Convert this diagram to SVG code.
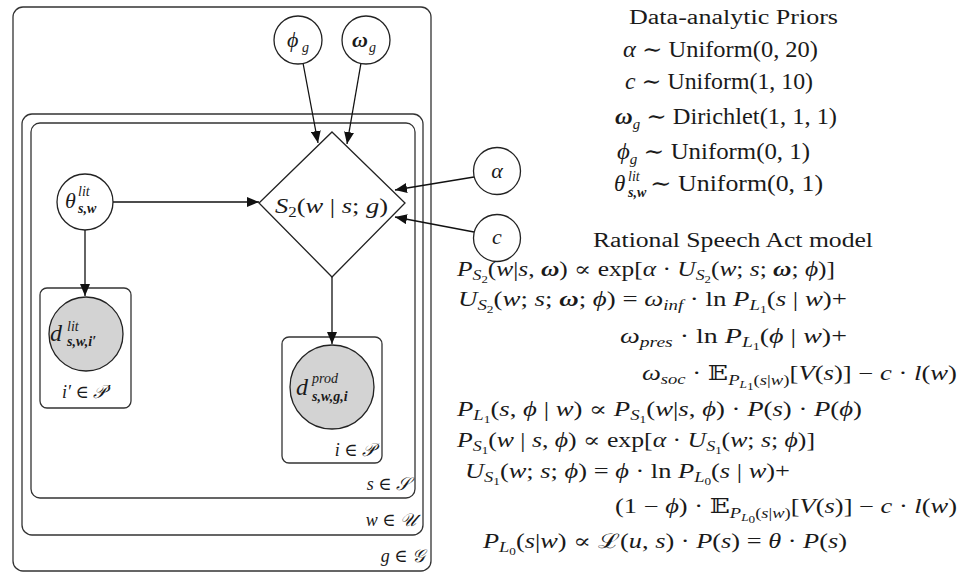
<svg xmlns="http://www.w3.org/2000/svg" width="976" height="575" viewBox="0 0 976 575">
<style>
.t{font-family:"Liberation Serif","DejaVu Serif",serif;fill:#1a1a1a}
.e{font-size:20px}
.p{font-size:23px}
.n{font-size:22px}
.pl{font-size:18px}
.i{font-style:italic}
.b{font-weight:bold}
.s{font-size:14px}
.ss{font-size:10px}
.plate{fill:none;stroke:#333;stroke-width:1.3}
.node{fill:#fff;stroke:#222;stroke-width:1.3}
.obs{fill:#d3d3d3;stroke:#222;stroke-width:1.3}
.edge{fill:none;stroke:#111;stroke-width:1.3;marker-end:url(#ah)}
</style>
<defs>
<marker id="ah" viewBox="0 0 12 10" refX="12" refY="5" markerWidth="12" markerHeight="10" orient="auto" markerUnits="userSpaceOnUse"><path d="M0,0 L12,5 L0,10 z" fill="#111"/></marker>
</defs>
<rect width="976" height="575" fill="#fff"/>

<g id="plates">
<rect class="plate" x="13" y="7" width="418" height="564" rx="10"/>
<rect class="plate" x="22" y="114" width="401" height="421" rx="10"/>
<rect class="plate" x="31" y="123" width="384" height="375" rx="9"/>
<rect class="plate" x="40" y="288" width="91" height="120" rx="7"/>
<rect class="plate" x="282" y="337" width="100" height="126" rx="7"/>
<text class="t pl i" x="62" y="398">i′ ∈ 𝒫′</text>
<text class="t pl i" x="375" y="456" text-anchor="end">i ∈ 𝒫</text>
<text class="t pl i" x="410" y="490" text-anchor="end">s ∈ 𝒮</text>
<text class="t pl i" x="416" y="526" text-anchor="end">w ∈ 𝒰</text>
<text class="t pl i" x="425" y="562" text-anchor="end">g ∈ 𝒢</text>
</g>

<g id="connectors">
<line class="edge" x1="303" y1="63" x2="318" y2="143"/>
<line class="edge" x1="361" y1="63" x2="347" y2="144"/>
<line class="edge" x1="113" y1="202" x2="259" y2="202"/>
<line class="edge" x1="85" y1="230" x2="85" y2="296"/>
<line class="edge" x1="332" y1="277" x2="332" y2="344"/>
<line class="edge" x1="474" y1="177" x2="395" y2="190"/>
<line class="edge" x1="474" y1="232" x2="395" y2="217"/>
</g>

<g id="phi_g">
<circle class="node" cx="298" cy="40" r="24"/>
<text class="t n i" x="287" y="47">ϕ</text><text class="t s i" x="302" y="52">g</text>
</g>
<g id="omega_g">
<circle class="node" cx="366" cy="40" r="24"/>
<text class="t n i b" x="352" y="47">ω</text><text class="t s i" x="369" y="52">g</text>
</g>
<g id="alpha">
<circle class="node" cx="497" cy="171" r="23.5"/>
<text class="t n i" x="497" y="178" text-anchor="middle">α</text>
</g>
<g id="c">
<circle class="node" cx="497" cy="238" r="23.5"/>
<text class="t n i" x="497" y="244" text-anchor="middle">c</text>
</g>
<g id="theta">
<circle class="node" cx="85" cy="202" r="28"/>
<text class="t n i" x="65" y="208">θ</text>
<text class="t s i" x="78" y="196">lit</text>
<text class="t s i b" x="78" y="213">s,w</text>
</g>
<g id="S2">
<polygon class="node" points="332,132 405,203 332,277 259,203"/>
<text class="t n" x="275" y="213" textLength="113" lengthAdjust="spacingAndGlyphs"><tspan class="i">S</tspan><tspan class="s" dy="4">2</tspan><tspan dy="-4">(</tspan><tspan class="i">w</tspan> | <tspan class="i">s</tspan>; <tspan class="i">g</tspan>)</text>
</g>
<g id="d_lit">
<circle class="obs" cx="86" cy="334" r="37"/>
<text class="t i" style="font-size:24px" x="50" y="341">d</text>
<text class="t s i" x="67" y="331">lit</text>
<text class="t s i b" x="67" y="346">s,w,i′</text>
</g>
<g id="d_prod">
<circle class="obs" cx="332" cy="387" r="42"/>
<text class="t i" style="font-size:24px" x="296" y="395">d</text>
<text class="t s i" x="312" y="383">prod</text>
<text class="t s i b" x="312" y="401">s,w,g,i</text>
</g>

<g id="priors">
<text class="t e" x="629" y="24" textLength="209" lengthAdjust="spacingAndGlyphs">Data-analytic Priors</text>
<text class="t p" x="623" y="57" textLength="195" lengthAdjust="spacingAndGlyphs"><tspan class="i">α</tspan> ∼ Uniform(0, 20)</text>
<text class="t p" x="625" y="89" textLength="188" lengthAdjust="spacingAndGlyphs"><tspan class="i">c</tspan> ∼ Uniform(1, 10)</text>
<text class="t p" x="615" y="124" textLength="222" lengthAdjust="spacingAndGlyphs"><tspan class="i b">ω</tspan><tspan class="s i" dy="5">g</tspan><tspan dy="-5"> ∼ Dirichlet(1, 1, 1)</tspan></text>
<text class="t p" x="617" y="159" textLength="193" lengthAdjust="spacingAndGlyphs"><tspan class="i">ϕ</tspan><tspan class="s i" dy="5">g</tspan><tspan dy="-5"> ∼ Uniform(0, 1)</tspan></text>
<text class="t p i" x="614" y="191">θ</text>
<text class="t s i" x="628" y="181">lit</text>
<text class="t s i b" x="628" y="197">s,w</text>
<text class="t p" x="650" y="191" textLength="173" lengthAdjust="spacingAndGlyphs">∼ Uniform(0, 1)</text>
</g>

<g id="rsa">
<text class="t e" x="593" y="247" textLength="280" lengthAdjust="spacingAndGlyphs">Rational Speech Act model</text>
<text class="t e" x="457" y="276" textLength="378" lengthAdjust="spacingAndGlyphs"><tspan class="i">P</tspan><tspan class="s i" dy="4">S</tspan><tspan class="ss" dy="3">2</tspan><tspan dy="-7">(</tspan><tspan class="i">w</tspan>|<tspan class="i">s</tspan>, <tspan class="i b">ω</tspan>) ∝ exp[<tspan class="i">α</tspan> · <tspan class="i">U</tspan><tspan class="s i" dy="4">S</tspan><tspan class="ss" dy="3">2</tspan><tspan dy="-7">(</tspan><tspan class="i">w</tspan>; <tspan class="i">s</tspan>; <tspan class="i b">ω</tspan>; <tspan class="i">ϕ</tspan>)]</text>
<text class="t e" x="458" y="306" textLength="389" lengthAdjust="spacingAndGlyphs"><tspan class="i">U</tspan><tspan class="s i" dy="4">S</tspan><tspan class="ss" dy="3">2</tspan><tspan dy="-7">(</tspan><tspan class="i">w</tspan>; <tspan class="i">s</tspan>; <tspan class="i b">ω</tspan>; <tspan class="i">ϕ</tspan>) = <tspan class="i">ω</tspan><tspan class="s i" dy="4">inf</tspan><tspan dy="-4"> · ln </tspan><tspan class="i">P</tspan><tspan class="s i" dy="4">L</tspan><tspan class="ss" dy="3">1</tspan><tspan dy="-7">(</tspan><tspan class="i">s</tspan> | <tspan class="i">w</tspan>)+</text>
<text class="t e" x="620" y="343" textLength="227" lengthAdjust="spacingAndGlyphs"><tspan class="i">ω</tspan><tspan class="s i" dy="4">pres</tspan><tspan dy="-4"> · ln </tspan><tspan class="i">P</tspan><tspan class="s i" dy="4">L</tspan><tspan class="ss" dy="3">1</tspan><tspan dy="-7">(</tspan><tspan class="i">ϕ</tspan> | <tspan class="i">w</tspan>)+</text>
<text class="t e" x="642" y="380" textLength="315" lengthAdjust="spacingAndGlyphs"><tspan class="i">ω</tspan><tspan class="s i" dy="4">soc</tspan><tspan dy="-4"> · 𝔼</tspan><tspan class="s i" dy="5">P</tspan><tspan class="ss i" dy="3">L</tspan><tspan class="ss" dy="2">1</tspan><tspan class="s" dy="-5">(</tspan><tspan class="s i">s</tspan><tspan class="s">|</tspan><tspan class="s i">w</tspan><tspan class="s">)</tspan><tspan dy="-5">[</tspan><tspan class="i">V</tspan>(<tspan class="i">s</tspan>)] − <tspan class="i">c</tspan> · <tspan class="i">l</tspan>(<tspan class="i">w</tspan>)</text>
<text class="t e" x="457" y="416" textLength="405" lengthAdjust="spacingAndGlyphs"><tspan class="i">P</tspan><tspan class="s i" dy="4">L</tspan><tspan class="ss" dy="3">1</tspan><tspan dy="-7">(</tspan><tspan class="i">s</tspan>, <tspan class="i">ϕ</tspan> | <tspan class="i">w</tspan>) ∝ <tspan class="i">P</tspan><tspan class="s i" dy="4">S</tspan><tspan class="ss" dy="3">1</tspan><tspan dy="-7">(</tspan><tspan class="i">w</tspan>|<tspan class="i">s</tspan>, <tspan class="i">ϕ</tspan>) · <tspan class="i">P</tspan>(<tspan class="i">s</tspan>) · <tspan class="i">P</tspan>(<tspan class="i">ϕ</tspan>)</text>
<text class="t e" x="457" y="447" textLength="358" lengthAdjust="spacingAndGlyphs"><tspan class="i">P</tspan><tspan class="s i" dy="4">S</tspan><tspan class="ss" dy="3">1</tspan><tspan dy="-7">(</tspan><tspan class="i">w</tspan> | <tspan class="i">s</tspan>, <tspan class="i">ϕ</tspan>) ∝ exp[<tspan class="i">α</tspan> · <tspan class="i">U</tspan><tspan class="s i" dy="4">S</tspan><tspan class="ss" dy="3">1</tspan><tspan dy="-7">(</tspan><tspan class="i">w</tspan>; <tspan class="i">s</tspan>; <tspan class="i">ϕ</tspan>)]</text>
<text class="t e" x="465" y="478" textLength="325" lengthAdjust="spacingAndGlyphs"><tspan class="i">U</tspan><tspan class="s i" dy="4">S</tspan><tspan class="ss" dy="3">1</tspan><tspan dy="-7">(</tspan><tspan class="i">w</tspan>; <tspan class="i">s</tspan>; <tspan class="i">ϕ</tspan>) = <tspan class="i">ϕ</tspan> · ln <tspan class="i">P</tspan><tspan class="s i" dy="4">L</tspan><tspan class="ss" dy="3">0</tspan><tspan dy="-7">(</tspan><tspan class="i">s</tspan> | <tspan class="i">w</tspan>)+</text>
<text class="t e" x="615" y="513" textLength="342" lengthAdjust="spacingAndGlyphs">(1 − <tspan class="i">ϕ</tspan>) · 𝔼<tspan class="s i" dy="5">P</tspan><tspan class="ss i" dy="3">L</tspan><tspan class="ss" dy="2">0</tspan><tspan class="s" dy="-5">(</tspan><tspan class="s i">s</tspan><tspan class="s">|</tspan><tspan class="s i">w</tspan><tspan class="s">)</tspan><tspan dy="-5">[</tspan><tspan class="i">V</tspan>(<tspan class="i">s</tspan>)] − <tspan class="i">c</tspan> · <tspan class="i">l</tspan>(<tspan class="i">w</tspan>)</text>
<text class="t e" x="483" y="548" textLength="364" lengthAdjust="spacingAndGlyphs"><tspan class="i">P</tspan><tspan class="s i" dy="4">L</tspan><tspan class="ss" dy="3">0</tspan><tspan dy="-7">(</tspan><tspan class="i">s</tspan>|<tspan class="i">w</tspan>) ∝ ℒ(<tspan class="i">u</tspan>, <tspan class="i">s</tspan>) · <tspan class="i">P</tspan>(<tspan class="i">s</tspan>) = <tspan class="i">θ</tspan> · <tspan class="i">P</tspan>(<tspan class="i">s</tspan>)</text>
</g>
</svg>
